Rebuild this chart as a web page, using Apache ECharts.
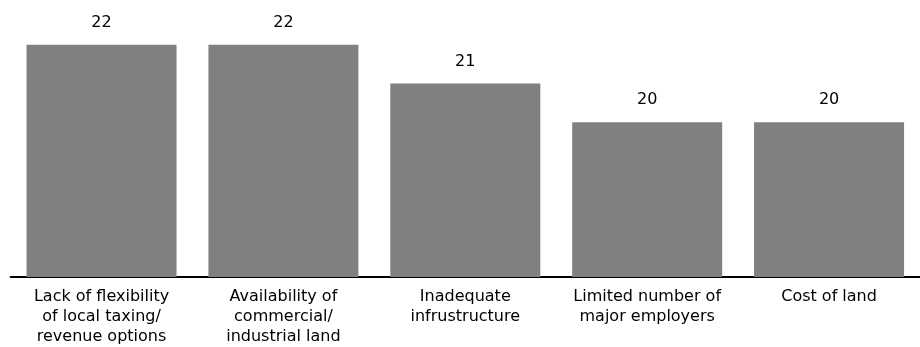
<!DOCTYPE html>
<html>
<head>
<meta charset="utf-8">
<script src="https://cdn.jsdelivr.net/npm/echarts@6/dist/echarts.min.js"></script>
<style>
  html, body { margin: 0; padding: 0; background: #ffffff; }
  #chart { width: 920px; height: 347px; }
</style>
</head>
<body>
<div id="chart"></div>
<script>
// Barriers to economic development, number of responses
const categories = [
  'Lack of flexibility\nof local taxing/\nrevenue options',
  'Availability of\ncommercial/\nindustrial land',
  'Inadequate\ninfrustructure',
  'Limited number of\nmajor employers',
  'Cost of land'
];
const responses = [22, 22, 21, 20, 20];

const chart = echarts.init(document.getElementById('chart'), null, { renderer: 'canvas' });

chart.setOption({
  animation: false,
  backgroundColor: '#ffffff',
  grid: { left: 10.6, right: -4.4, top: 6, bottom: 68, containLabel: false },
  xAxis: {
    type: 'category',
    data: categories,
    axisLine: { show: true, lineStyle: { color: '#000000', width: 2 } },
    axisTick: { show: false },
    axisLabel: {
      color: '#000000',
      fontFamily: 'DejaVu Sans',
      fontSize: 16,
      lineHeight: 20,
      margin: 10,
      interval: 0
    }
  },
  yAxis: {
    type: 'value',
    min: 16,
    max: 23,
    show: false,
    splitLine: { show: false }
  },
  series: [{
    type: 'bar',
    data: responses,
    barWidth: 150,
    itemStyle: { color: '#808080' },
    label: {
      show: true,
      position: 'top',
      distance: 14,
      color: '#000000',
      fontFamily: 'DejaVu Sans',
      fontSize: 16
    }
  }]
});
</script>
</body>
</html>
